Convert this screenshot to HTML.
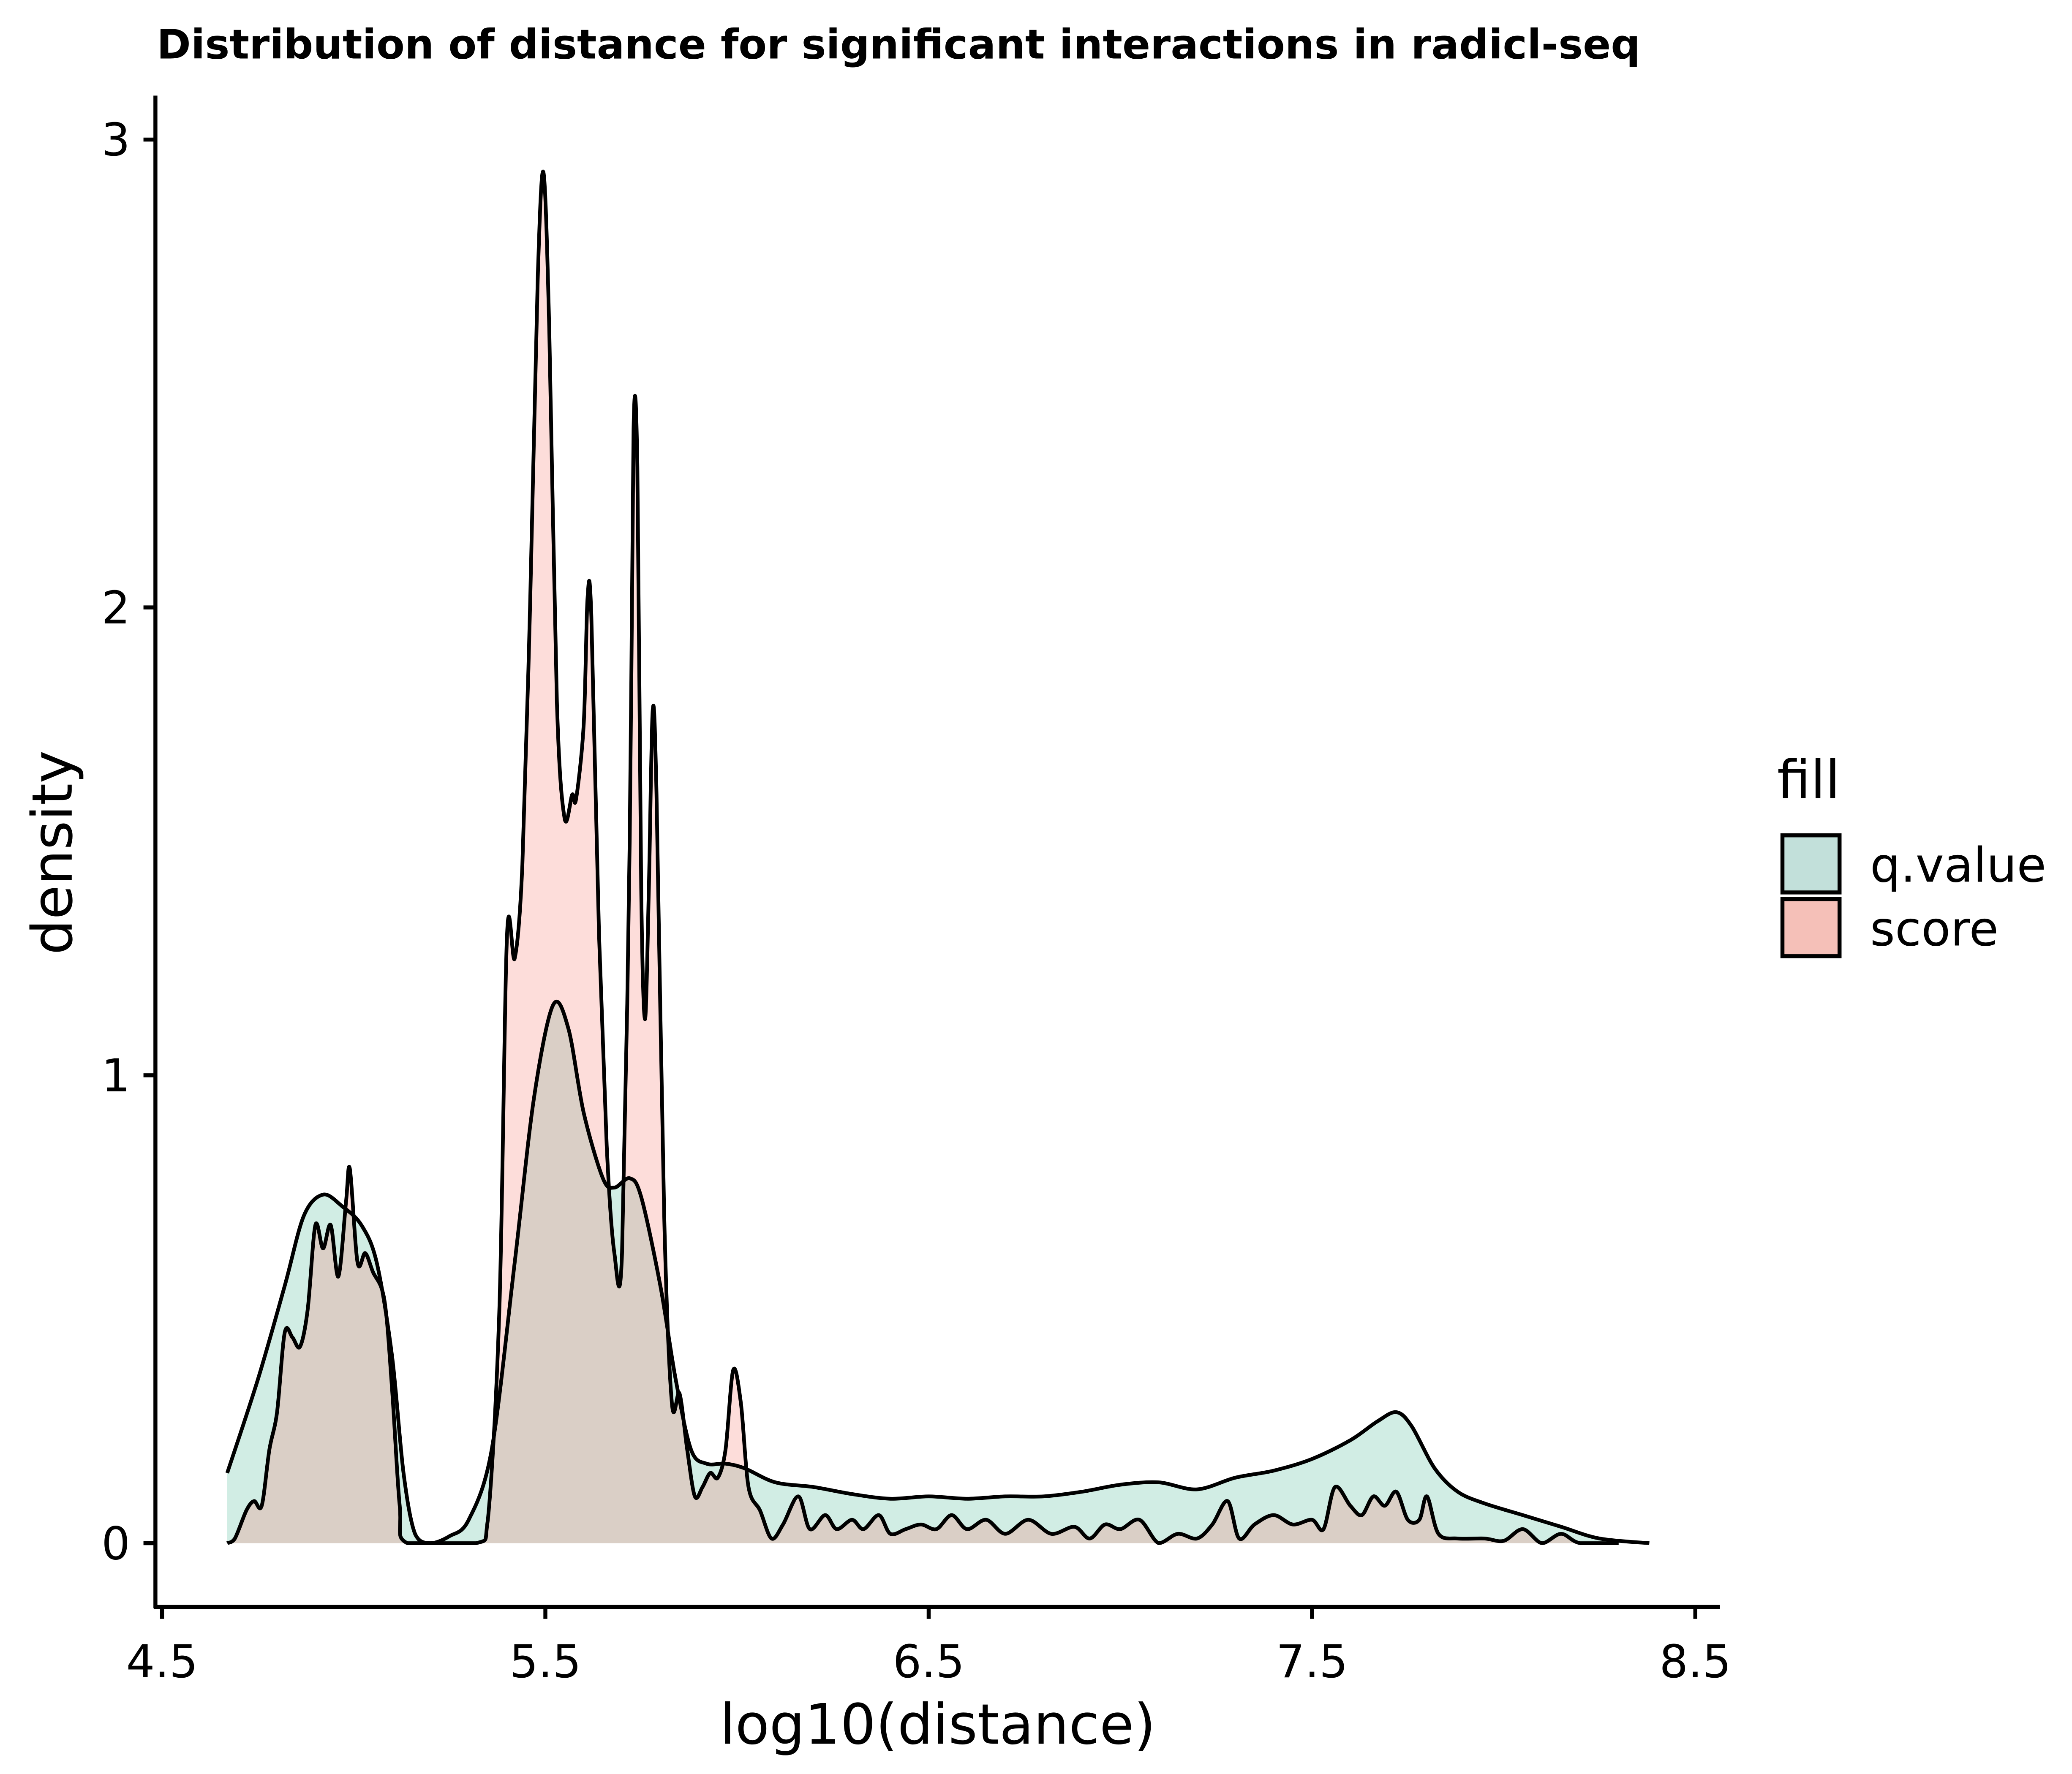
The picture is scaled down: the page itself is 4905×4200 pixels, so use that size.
<!DOCTYPE html>
<html><head><meta charset="utf-8">
<style>html,body{margin:0;padding:0;background:#fff}svg{display:block}</style>
</head><body>
<svg id="chart" width="4905" height="4200" viewBox="0 0 1560 1335.8" xmlns="http://www.w3.org/2000/svg" font-family="'DejaVu Sans','Liberation Sans',sans-serif">
<rect width="1560" height="1336" fill="#fff"/>
<text x="118" y="44" font-size="30.5" font-weight="bold" textLength="1117" lengthAdjust="spacingAndGlyphs">Distribution of distance for significant interactions in radicl-seq</text>
<g id="plot"></g>
<g id="axes"></g>
<text x="706" y="1313" font-size="42" text-anchor="middle">log10(distance)</text>
<text transform="translate(54,642) rotate(-90)" font-size="42" text-anchor="middle">density</text>
<g>
<text x="1338" y="601" font-size="40">fill</text>
<rect x="1342" y="629" width="43" height="43" fill="#C2E0DA" stroke="#000" stroke-width="3"/>
<text x="1408" y="664" font-size="36">q.value</text>
<rect x="1342" y="677" width="43" height="43" fill="#F5C0B8" stroke="#000" stroke-width="3"/>
<text x="1408" y="712" font-size="36">score</text>
</g>
</svg>
<script>
const qX=[4.67,4.75,4.82,4.87,4.92,4.97,5.02,5.06,5.10,5.13,5.16,5.20,5.25,5.30,5.36,5.42,5.47,5.52,5.56,5.60,5.65,5.68,5.72,5.75,5.80,5.84,5.88,5.92,5.97,6.02,6.1,6.2,6.3,6.4,6.5,6.6,6.7,6.8,6.9,7.0,7.1,7.2,7.3,7.4,7.5,7.6,7.67,7.72,7.76,7.82,7.88,7.95,8.05,8.15,8.25,8.38];
const qY=[0.15,0.35,0.55,0.70,0.745,0.72,0.68,0.6,0.4,0.15,0.02,0.0,0.015,0.05,0.2,0.6,0.95,1.15,1.1,0.92,0.78,0.76,0.78,0.74,0.55,0.35,0.2,0.17,0.17,0.16,0.13,0.12,0.105,0.095,0.1,0.095,0.1,0.1,0.11,0.125,0.13,0.115,0.14,0.155,0.18,0.22,0.26,0.28,0.25,0.16,0.11,0.085,0.06,0.035,0.01,0.0];
const sX=[4.67,4.69,4.72,4.74,4.76,4.78,4.80,4.82,4.84,4.86,4.88,4.90,4.92,4.94,4.96,4.98,4.99,5.01,5.03,5.05,5.08,5.10,5.12,5.14,5.32,5.35,5.38,5.40,5.42,5.44,5.46,5.48,5.495,5.51,5.53,5.55,5.57,5.58,5.60,5.61,5.62,5.64,5.66,5.68,5.70,5.72,5.73,5.74,5.75,5.76,5.77,5.78,5.79,5.81,5.83,5.85,5.87,5.89,5.91,5.93,5.95,5.97,5.99,6.01,6.03,6.06,6.09,6.12,6.16,6.19,6.23,6.26,6.30,6.33,6.37,6.40,6.44,6.48,6.52,6.56,6.60,6.65,6.70,6.76,6.82,6.88,6.92,6.96,7.0,7.05,7.10,7.15,7.20,7.24,7.28,7.31,7.35,7.40,7.45,7.50,7.53,7.56,7.60,7.63,7.66,7.69,7.72,7.75,7.78,7.80,7.83,7.88,7.95,8.0,8.05,8.10,8.15,8.20,8.30];
const sY=[0.0,0.01,0.07,0.09,0.08,0.2,0.28,0.45,0.44,0.42,0.5,0.68,0.63,0.68,0.57,0.73,0.8,0.6,0.62,0.58,0.52,0.33,0.08,0.0,0.0,0.05,0.5,1.3,1.25,1.45,2.0,2.7,2.93,2.6,1.8,1.55,1.6,1.59,1.75,2.02,1.98,1.3,0.85,0.62,0.62,1.5,2.38,2.3,1.4,1.12,1.4,1.78,1.6,0.7,0.3,0.32,0.2,0.1,0.12,0.15,0.14,0.2,0.37,0.3,0.12,0.07,0.01,0.04,0.1,0.03,0.06,0.03,0.05,0.03,0.06,0.02,0.03,0.04,0.03,0.06,0.03,0.05,0.02,0.05,0.02,0.035,0.01,0.04,0.03,0.05,0.0,0.02,0.01,0.04,0.09,0.01,0.04,0.06,0.04,0.05,0.03,0.12,0.08,0.06,0.1,0.08,0.11,0.05,0.05,0.1,0.02,0.01,0.01,0.005,0.03,0.0,0.02,0.0,0.0];
const xTicks=[4.5,5.5,6.5,7.5,8.5];
const xTickLabels=["4.5","5.5","6.5","7.5","8.5"];
const yTicks=[0,1,2,3];
const yTickLabels=["0","1","2","3"];

const NS="http://www.w3.org/2000/svg";
const xs=v=>122+(v-4.5)*288.6;
const ys=v=>1162-v*352.3;
function mk(tag,attrs,parent){const e=document.createElementNS(NS,tag);for(const k in attrs)e.setAttribute(k,attrs[k]);parent.appendChild(e);return e;}
function curve(X,Y){
  const p=X.map((x,i)=>[xs(x),ys(Y[i])]);
  let d="M"+p[0][0]+","+p[0][1];
  for(let i=0;i<p.length-1;i++){
    const p0=p[Math.max(0,i-1)],p1=p[i],p2=p[i+1],p3=p[Math.min(p.length-1,i+2)];
    const t=0.16;
    let c1y=p1[1]+(p2[1]-p0[1])*t, c2y=p2[1]-(p3[1]-p1[1])*t;
    c1y=Math.min(c1y,ys(0));c2y=Math.min(c2y,ys(0));
    d+=` C${p1[0]+(p2[0]-p0[0])*t},${c1y} ${p2[0]-(p3[0]-p1[0])*t},${c2y} ${p2[0]},${p2[1]}`;
  }
  return {line:d,area:d+` L${p[p.length-1][0]},${ys(0)} L${p[0][0]},${ys(0)} Z`};
}
const plot=document.getElementById('plot');
const q=curve(qX,qY),s=curve(sX,sY);
let e;
e=mk('path',{d:q.area,fill:'#66C2A5','fill-opacity':0.3,stroke:'none'},plot);


e=mk('path',{d:s.area,fill:'#F8766D','fill-opacity':0.25,stroke:'none'},plot);


e=mk('path',{d:q.line,fill:'none',stroke:'#000','stroke-width':2.8},plot);


e=mk('path',{d:s.line,fill:'none',stroke:'#000','stroke-width':2.8},plot);



const ax=document.getElementById('axes');
e=mk('line',{x1:117,y1:72,x2:117,y2:1211,stroke:'#000','stroke-width':3},ax);


e=mk('line',{x1:116,y1:1210,x2:1295,y2:1210,stroke:'#000','stroke-width':3},ax);


xTicks.forEach((v,i)=>{
  const t=mk('line',{x1:xs(v),y1:1210,x2:xs(v),y2:1219,stroke:'#000','stroke-width':3},ax);
  
  
  const l=mk('text',{x:xs(v),y:1263,'font-size':34,'text-anchor':'middle'},ax);
  l.textContent=xTickLabels[i];
  
  
});
yTicks.forEach((v,i)=>{
  const t=mk('line',{x1:108,y1:ys(v),x2:117,y2:ys(v),stroke:'#000','stroke-width':3},ax);
  
  
  const l=mk('text',{x:98,y:ys(v)+12,'font-size':34,'text-anchor':'end'},ax);
  l.textContent=yTickLabels[i];
  
  
});
</script>
</body></html>
